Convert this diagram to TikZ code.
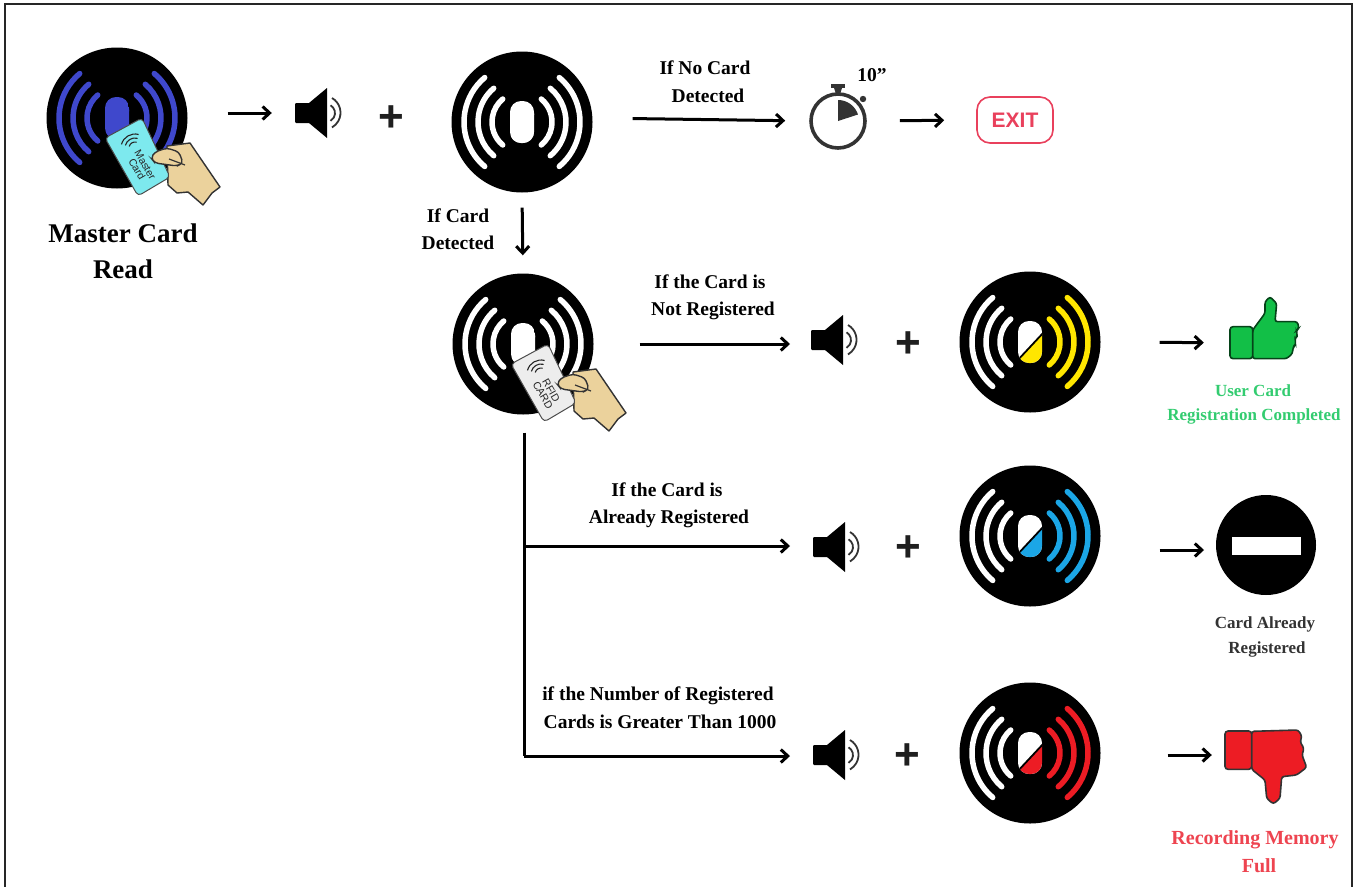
\documentclass[tikz,border=0pt]{standalone}
\usepackage{fontspec}
\setmainfont{Liberation Serif}
\setsansfont{Liberation Sans}
\usetikzlibrary{arrows.meta,positioning,calc}
\definecolor{mblue}{HTML}{3F48CC}
\definecolor{myellow}{HTML}{FFE600}
\definecolor{cblue}{HTML}{1BA6E6}
\definecolor{fred}{HTML}{ED1C24}
\definecolor{cardcyan}{HTML}{7DE9EE}
\definecolor{cardgray}{HTML}{EDEDED}
\definecolor{skin}{HTML}{EBD29C}
\definecolor{okgreen}{HTML}{12BF47}
\definecolor{oktext}{HTML}{33CC70}
\definecolor{fulltext}{HTML}{EE4450}
\definecolor{exitred}{HTML}{E9405C}
\tikzset{
  pics/waves/.style n args={3}{code={
    \foreach \r in {30,44,58} {
      \draw[#1,line width=5.5pt,line cap=round] (130:\r) arc[start angle=130,end angle=230,radius=\r];
      \draw[#2,line width=5.5pt,line cap=round] (-50:\r) arc[start angle=-50,end angle=50,radius=\r];
    }
    \begin{scope}
      \clip[rounded corners=11pt] (-12,-21) rectangle (12,21);
      \fill[#1] (-12,-21) rectangle (12,21);
      \fill[#2] (-14,20) -- (14,-10) -- (14,22) -- (-14,22) -- cycle;
      \draw[#3,line width=1.8pt] (-14,20) -- (14,-10);
    \end{scope}
  }},
  pics/speaker/.style={code={
    \fill[black,rounded corners=1pt] (-27,-10) rectangle (-10,10);
    \fill[black] (-13,-10) -- (5,-25) -- (5,25) -- (-13,10) -- cycle;
    \draw[black!80,line width=1.8pt] (8.5,-7.7) arc[start angle=-60,end angle=60,radius=9];
    \draw[black!80,line width=1.8pt] (10,-15) arc[start angle=-60,end angle=60,radius=17];
  }},
  pics/handcard/.style n args={3}{code={
    \fill[skin,draw=black!80,line width=1.4pt,line join=round] (50,28) -- (73,25) -- (103,69) -- (95,75) -- (86,87)
      -- (71,74) -- (60,75) -- (51,67) -- cycle;
    \filldraw[#1,draw=black!70,line width=1pt,rounded corners=4pt] (-12,20) -- (25,0) -- (53,59) -- (21,78) -- cycle;
    \node[rotate=-60,inner sep=0pt,align=center,font=\sffamily\fontsize{10.5}{10.5}\selectfont,text=black!85] (#3) at (24,49) {#2};
    \foreach \r in {6,10,14}
      \draw[black!85,line width=1.1pt] ($(18,30)+(-165:\r)$) arc[start angle=-165,end angle=-75,radius=\r];
    \fill[skin,draw=black!80,line width=1.4pt,rounded corners=3.5pt] (62,34) -- (50,30) -- (38,34) -- (34,40) -- (38,45) -- (60,48) -- (66,45) -- cycle;
    \draw[black!80,line width=1.2pt] (52,41) -- (68,47);
  }},
}
\begin{document}
\begin{tikzpicture}[x=1pt,y=-1pt,font=\bfseries\fontsize{19.5}{21}\selectfont,
  arr/.style={-{Straight Barb[length=7pt,width=13pt]},line width=3pt,black},
  bar/.style={line width=3pt,black},
  lbl/.style={inner sep=0pt,text=black,text height=17pt,text depth=4pt},
  small/.style={inner sep=0pt,text height=15pt,text depth=4pt,font=\bfseries\fontsize{17}{18}\selectfont},
  big/.style={inner sep=0pt,text=fulltext,text height=17.4pt,text depth=4pt,font=\bfseries\fontsize{20}{22}\selectfont},
  disc/.style={circle,fill=black,minimum size=141pt,inner sep=0pt},
  spot/.style={inner sep=0pt,minimum size=0pt},
  plussign/.style={inner sep=0pt,text=black!88,font=\sffamily\bfseries\fontsize{44}{44}\selectfont},
]
  \path[use as bounding box,clip] (0,0) rectangle (1359,886);
  \fill[white] (0,0) rectangle (1359,886);
  \node[draw=black!85,line width=2pt,minimum width=1347pt,minimum height=1000pt,anchor=north west,inner sep=0pt] (frame) at (4,3) {};

  % readers
  \foreach \name/\x/\y/\lcol/\rcol/\split in {rd0/117/118/mblue/mblue/mblue,rd1/522/122/white/white/white,rd2/523/344/white/white/white,rd3/1030/342/white/myellow/black,rd4/1030/536/white/cblue/black,rd5/1030/753/white/fred/black} {
    \node[disc] (\name) at (\x,\y) {};
    \pic at (\name) {waves={\lcol}{\rcol}{\split}};
  }
  \pic at (rd0) {handcard={cardcyan}{Master\\[-1pt]Card}{cardm}};
  \pic at (rd2) {handcard={cardgray}{RFID\\[-1pt]CARD}{cardr}};

  % speakers and plus signs
  \foreach \name/\x/\y/\px/\py in {sp0/322/113/391/119,sp1/838/340/908/345,sp2/840/547/908/549,sp3/840/755/907/757} {
    \node[spot] (\name) at (\x,\y) {};
    \pic at (\name) {speaker};
    \node[plussign] (plus\name) at (\px,\py) {+};
  }

  % stopwatch
  \node[circle,draw=black!80,line width=3.6pt,minimum size=54pt,inner sep=0pt] (watch) at (838,121) {};
  \fill[black!80] (watch.center) -- ++(0,-21) arc[start angle=-90,end angle=-18,radius=21] -- cycle;
  \fill[black!80] (831,84) rectangle (845,88);
  \fill[black!80] (834,88) -- (842,88) -- (840,94) -- (836,94) -- cycle;
  \fill[black!80] (863,99) circle[radius=3.2];
  \node[lbl] (ten) at (872,75) {10"};

  \node[draw=exitred,line width=1.6pt,rounded corners=13pt,minimum width=76pt,minimum height=46pt,inner sep=0pt,text=exitred,font=\sffamily\bfseries\fontsize{21}{21}\selectfont] (exit) at (1015,120) {EXIT};

  % results
  \node[spot] (up) at (1265,343) {};
  \begin{scope}[shift={(940,270)},scale=1/3]
    \filldraw[okgreen,draw=black!65!okgreen,line width=1.6pt,rounded corners=2.5pt] (938,180) -- (975,130) -- (975,95) -- (990,80) -- (1010,100) -- (1005,155) -- (1072,155) -- (1077,175) -- (1068,182) -- (1073,195) -- (1064,208) -- (1068,222) -- (1058,235) -- (1058,250) -- (1040,266) -- (938,266) -- cycle;
    \filldraw[okgreen,draw=black!65!okgreen,line width=1.6pt,rounded corners=3pt] (870,170) rectangle (938,266);
  \end{scope}
  \node[circle,fill=black,minimum size=100pt,inner sep=0pt] (stop) at (1266,545) {};
  \fill[white] (1232,537) rectangle (1301,555);
  \node[spot] (down) at (1265,755) {};
  \begin{scope}[shift={(940,670)},scale=1/3]
    \filldraw[fred,draw=black!80,line width=1.6pt,rounded corners=2.5pt] (935,184) -- (1075,180) -- (1086,200) -- (1080,215) -- (1092,235) -- (1086,255) -- (1100,292) -- (1070,315) -- (1025,320) -- (1020,385) -- (1000,402) -- (980,385) -- (975,330) -- (935,298) -- cycle;
    \filldraw[fred,draw=black!80,line width=1.6pt,rounded corners=3pt] (855,183) rectangle (935,298);
  \end{scope}

  % texts
  \node[lbl,text height=18pt,text depth=6pt,font=\bfseries\fontsize{27}{30}\selectfont] (mc1) at (123,236) {Master Card};
  \node[lbl,text height=18pt,text depth=6pt,font=\bfseries\fontsize{27}{30}\selectfont] (mc2) at (123,272) {Read};
  \node[lbl] (t1) at (705,68) {If No Card};
  \node[lbl] (t2) at (708,96) {Detected};
  \node[lbl] (t3) at (458,216) {If Card};
  \node[lbl] (t4) at (458,243) {Detected};
  \node[lbl] (t5) at (710,282) {If the Card is};
  \node[lbl] (t6) at (713,309) {Not Registered};
  \node[lbl] (t7) at (667,490) {If the Card is};
  \node[lbl] (t8) at (669,517) {Already Registered};
  \node[lbl] (t9) at (658,694) {if the Number of Registered};
  \node[lbl] (t10) at (660,722) {Cards is Greater Than 1000};
  \node[small,text=oktext] (r1) at (1253,391) {User Card};
  \node[small,text=oktext] (r2) at (1254,415) {Registration Completed};
  \node[small,text=black!80] (r3) at (1265,623) {Card Already};
  \node[small,text=black!80] (r4) at (1267,648) {Registered};
  \node[big] (r5) at (1255,838) {Recording Memory};
  \node[big] (r6) at (1259,866) {Full};

  % arrows
  \coordinate (split1) at (524,546);
  \coordinate (split2) at (524,756);
  \draw[arr,shorten <=40pt,shorten >=50pt] (rd0.east |- sp0) -- (sp0);
  \draw[arr,shorten <=40pt,shorten >=24pt] ($(rd1.east)+(0,-4)$) -- (watch.west);
  \draw[arr,shorten <=33pt,shorten >=32pt] (watch.east) -- (exit.west);
  \draw[arr,shorten <=15pt,shorten >=18pt] (rd1.south) -- (rd2.north);
  \draw[arr,shorten <=46pt,shorten >=48pt] (rd2.east) -- (sp1 |- rd2);
  \draw[arr,shorten <=59pt,shorten >=61pt] (rd3.east) -- (up);
  \draw[bar,shorten <=18pt] (rd2.south -| split1) -- (split2);
  \draw[arr,shorten >=50pt] (split1) -- (sp2 |- split1);
  \draw[arr,shorten >=50pt] (split2) -- (sp3 |- split2);
  \draw[arr,shorten <=59pt,shorten >=62pt] (rd4.east |- 0,550) -- (stop.center |- 0,550);
  \draw[arr,shorten <=67pt,shorten >=53pt] (rd5.east |- down) -- (down);
\end{tikzpicture}
\end{document}
